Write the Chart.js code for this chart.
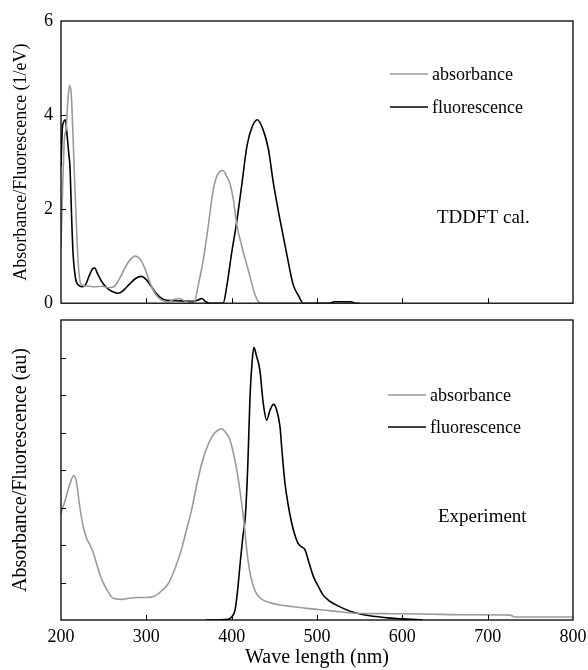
<!DOCTYPE html>
<html>
<head>
<meta charset="utf-8">
<script src="https://cdn.jsdelivr.net/npm/chart.js@4.4.1/dist/chart.umd.min.js"></script>
<style>
  body { margin: 0; background: #fff; }
  #wrap { position: relative; width: 588px; height: 670px; }
  canvas { position: absolute; left: 0; }
  #topChart { top: 0; }
  #bottomChart { top: 318px; }
</style>
</head>
<body>
<div id="wrap">
  <canvas id="topChart" width="588" height="322"></canvas>
  <canvas id="bottomChart" width="588" height="352"></canvas>
</div>
<script>
// TDDFT calculation (top panel), 1/eV
const tdAbsNm = [200, 202, 204, 206, 208, 210, 212, 214, 216, 218, 220, 222, 225, 232, 240, 248, 255, 262, 268, 274, 280, 287, 292, 298, 303, 308, 314, 320, 326, 332, 338, 344, 350, 356, 361, 367, 373, 377, 381, 385, 390, 394, 398, 402, 406, 412, 420, 427, 433, 440, 500];
const tdAbs   = [1.2, 2.5, 3.5, 3.7, 4.3, 4.63, 4.45, 3.6, 2.6, 1.7, 0.9, 0.5, 0.38, 0.36, 0.35, 0.36, 0.33, 0.35, 0.5, 0.72, 0.9, 1.0, 0.95, 0.75, 0.5, 0.28, 0.12, 0.05, 0.03, 0.08, 0.1, 0.06, 0.02, 0.02, 0.4, 0.95, 1.7, 2.25, 2.62, 2.78, 2.82, 2.7, 2.54, 2.2, 1.67, 1.2, 0.67, 0.2, 0.01, 0, 0];

const tdFluNm = [200, 201.5, 203, 205, 207, 209, 210.5, 212.5, 214, 216, 218, 221, 225, 229, 233, 237, 239.5, 243, 248, 254, 260, 267, 273, 280, 287, 294, 300, 306, 312, 318, 324, 340, 355, 361, 365, 369, 374, 390, 394, 400, 406, 412, 418, 424, 430, 437, 443, 449, 457, 465, 472, 478, 484, 515, 520, 540, 545, 550];
const tdFlu   = [2.9, 3.7, 3.85, 3.9, 3.6, 3.2, 2.9, 1.8, 1.1, 0.66, 0.45, 0.38, 0.35, 0.4, 0.58, 0.73, 0.75, 0.62, 0.45, 0.32, 0.25, 0.21, 0.27, 0.4, 0.52, 0.57, 0.5, 0.35, 0.2, 0.1, 0.06, 0.05, 0.04, 0.07, 0.1, 0.04, 0, 0, 0.33, 1.07, 1.74, 2.54, 3.35, 3.75, 3.9, 3.68, 3.28, 2.54, 1.74, 1.0, 0.4, 0.17, 0, 0, 0.03, 0.03, 0, 0];

// Experiment (bottom panel), au
const expAbsNm = [200, 205, 210, 215, 218, 222, 226, 230, 234, 238, 243, 248, 254, 259, 265, 271, 280, 290, 300, 310, 318, 326, 334, 341, 347, 353, 359, 365, 371, 377, 383, 388, 393, 398, 402, 406, 410, 414, 418, 422, 427, 432, 437, 447, 457, 470, 488, 510, 527, 547, 580, 625, 680, 726, 732, 800];
const expAbs   = [2.84, 3.2, 3.6, 3.85, 3.7, 3.02, 2.5, 2.18, 2.0, 1.78, 1.4, 1.07, 0.8, 0.62, 0.56, 0.55, 0.58, 0.6, 0.6, 0.64, 0.78, 0.98, 1.4, 1.87, 2.4, 2.93, 3.6, 4.18, 4.6, 4.89, 5.05, 5.1, 5.0, 4.8, 4.45, 4.0, 3.4, 2.7, 1.8, 1.2, 0.8, 0.62, 0.53, 0.45, 0.4, 0.36, 0.31, 0.26, 0.22, 0.18, 0.17, 0.16, 0.14, 0.13, 0.08, 0.08];

const expFluNm = [370, 396, 400, 404, 407, 410, 413, 416, 419, 421.5, 424, 426, 429, 433, 437, 441, 445, 449, 452, 456.6, 459, 462.5, 466, 470.4, 475, 478, 482, 486, 491, 496, 502, 507, 515, 527, 537, 547, 560, 586, 600, 624];
const expFlu   = [0, 0.02, 0.08, 0.27, 0.8, 1.52, 2.2, 2.76, 4.18, 5.96, 6.9, 7.27, 7.05, 6.67, 5.78, 5.33, 5.6, 5.75, 5.65, 5.16, 4.5, 3.64, 3.1, 2.58, 2.2, 2.04, 1.95, 1.87, 1.5, 1.15, 0.88, 0.67, 0.5, 0.35, 0.25, 0.18, 0.12, 0.05, 0.03, 0];

const xTickValues = [200, 300, 400, 500, 600, 700, 800];
const seriesLabels = ['absorbance', 'fluorescence'];
const absColor = '#9a9a9a';
const fluColor = '#000000';
const serif = "'Liberation Serif', 'Times New Roman', serif";

function points(xs, ys) {
    return xs.map((x, i) => ({ x: x, y: ys[i] }));
}

function lineSet(label, xs, ys, color) {
    return {
        label: label,
        data: points(xs, ys),
        borderColor: color,
        borderWidth: 1.6,
        pointRadius: 0,
        cubicInterpolationMode: 'monotone',
        fill: false
    };
}

// border box, inward ticks, legend and panel note
const panelPlugin = {
    id: 'panel',
    afterDatasetsDraw(chart, args, opts) {
        const { ctx, chartArea: a } = chart;
        const x = chart.scales.x, y = chart.scales.y;
        ctx.save();
        ctx.strokeStyle = '#000';
        ctx.lineWidth = 1.3;
        ctx.strokeRect(a.left, a.top, a.right - a.left, a.bottom - a.top);

        ctx.beginPath();
        xTickValues.forEach(v => {
            if (v <= x.min || v >= x.max) return;
            const px = Math.round(x.getPixelForValue(v)) + 0.5;
            ctx.moveTo(px, a.bottom);
            ctx.lineTo(px, a.bottom - 5);
        });
        opts.yTicks.forEach(v => {
            if (v <= y.min || v >= y.max) return;
            const py = Math.round(y.getPixelForValue(v)) + 0.5;
            ctx.moveTo(a.left, py);
            ctx.lineTo(a.left + 5, py);
        });
        ctx.lineWidth = 1;
        ctx.stroke();

        // legend
        ctx.font = '18px ' + serif;
        ctx.textBaseline = 'middle';
        ctx.fillStyle = '#000';
        chart.data.datasets.forEach((ds, i) => {
            const ly = opts.legendY + i * opts.legendGap;
            ctx.beginPath();
            ctx.strokeStyle = ds.borderColor;
            ctx.lineWidth = 1.6;
            ctx.moveTo(opts.legendX, ly);
            ctx.lineTo(opts.legendX + 38, ly);
            ctx.stroke();
            ctx.fillText(ds.label, opts.legendX + 42, ly + 1);
        });

        ctx.font = '19px ' + serif;
        ctx.fillText(opts.note, opts.noteX, opts.noteY);
        ctx.restore();
    }
};

new Chart(document.getElementById('topChart'), {
    type: 'line',
    data: {
        datasets: [
            lineSet(seriesLabels[0], tdAbsNm, tdAbs, absColor),
            lineSet(seriesLabels[1], tdFluNm, tdFlu, fluColor)
        ]
    },
    options: {
        responsive: false,
        animation: false,
        layout: { padding: { top: 21, right: 15, bottom: 2, left: 0 } },
        plugins: {
            legend: { display: false },
            tooltip: { enabled: false },
            panel: { yTicks: [2, 4], legendX: 390, legendY: 74, legendGap: 33, note: 'TDDFT cal.', noteX: 437, noteY: 218 }
        },
        scales: {
            x: { type: 'linear', min: 200, max: 800, display: false },
            y: {
                min: 0, max: 6,
                grid: { display: false, drawTicks: false },
                border: { display: false },
                ticks: { stepSize: 2, color: '#000', padding: 8, font: { family: serif, size: 18 } },
                title: { display: true, text: 'Absorbance/Fluorescence (1/eV)', color: '#000', padding: { top: 10, bottom: 0 }, font: { family: serif, size: 18 } },
                afterFit: scale => { scale.width = 61; }
            }
        }
    },
    plugins: [panelPlugin]
});

new Chart(document.getElementById('bottomChart'), {
    type: 'line',
    data: {
        datasets: [
            lineSet(seriesLabels[0], expAbsNm, expAbs, absColor),
            lineSet(seriesLabels[1], expFluNm, expFlu, fluColor)
        ]
    },
    options: {
        responsive: false,
        animation: false,
        layout: { padding: { top: 2, right: 15, bottom: 0, left: 0 } },
        plugins: {
            legend: { display: false },
            tooltip: { enabled: false },
            panel: { yTicks: [1, 2, 3, 4, 5, 6, 7], legendX: 388, legendY: 77, legendGap: 32, note: 'Experiment', noteX: 438, noteY: 199 }
        },
        scales: {
            x: {
                type: 'linear', min: 200, max: 800,
                grid: { display: false, drawTicks: false },
                border: { display: false },
                ticks: { stepSize: 100, color: '#000', padding: 6, maxRotation: 0, font: { family: serif, size: 18 } },
                title: { display: true, text: 'Wave length (nm)', color: '#000', padding: { top: 0, bottom: 0 }, font: { family: serif, size: 20 } },
                afterFit: scale => {
                    scale.height = 50;
                    scale.paddingLeft = 0;
                    scale.paddingRight = 0;
                }
            },
            y: {
                min: 0, max: 8,
                grid: { display: false, drawTicks: false },
                border: { display: false },
                ticks: { display: false, stepSize: 1 },
                title: { display: true, text: 'Absorbance/Fluorescence (au)', color: '#000', padding: { top: 9, bottom: 0 }, font: { family: serif, size: 20 } },
                afterFit: scale => { scale.width = 61; }
            }
        }
    },
    plugins: [panelPlugin]
});
</script>
</body>
</html>
